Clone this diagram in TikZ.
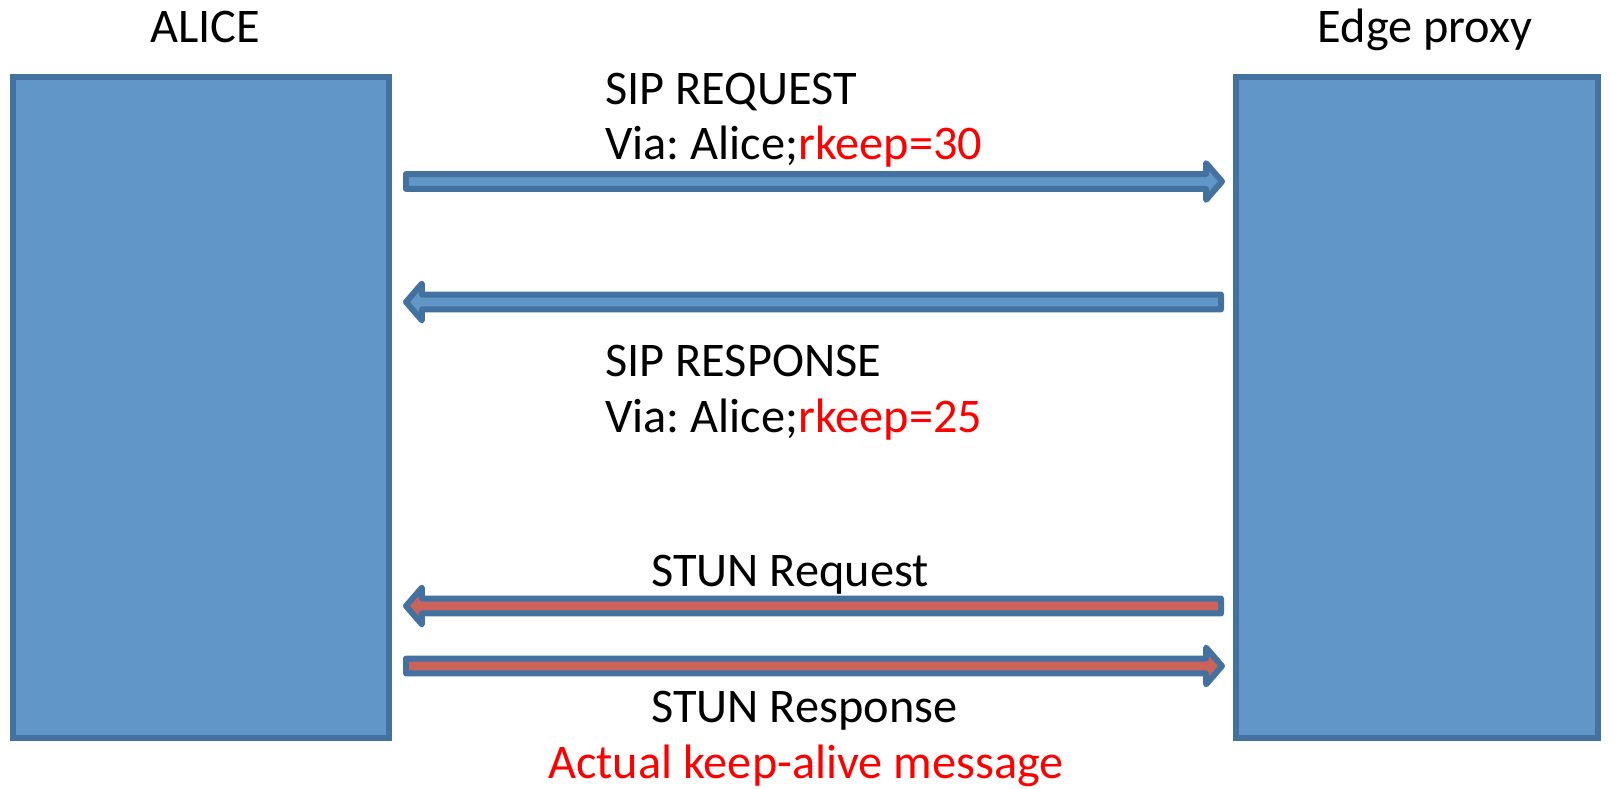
\documentclass[tikz,border=0pt]{standalone}
\usepackage{fontspec}
\setmainfont{Carlito}
\usetikzlibrary{calc}
\frenchspacing

\definecolor{boxfill}{RGB}{97,150,200}
\definecolor{boxline}{RGB}{68,114,160}
\definecolor{stunfill}{RGB}{203,99,91}
\definecolor{keepred}{RGB}{255,0,0}

\tikzset{
  party/.style={draw=boxline, fill=boxfill, line width=3.4pt, inner sep=0pt, outer sep=0pt, minimum height=13.22cm},
  msgtext/.style={anchor=base west, inner sep=0pt, font=\fontsize{27.5}{33}\selectfont},
  nametext/.style={anchor=base, inner sep=0pt, font=\fontsize{27.5}{33}\selectfont},
  blockarrow/.style={draw=boxline, line width=3.4pt, line join=round, to path={
    let \p1=(\tikztostart), \p2=(\tikztotarget),
        \n1={ifthenelse(\x2>\x1,9.07,-9.07)},
        \n2={\x2-\n1*1pt} in
    (\x1,\y1+4.25pt) -- (\n2,\y2+4.25pt) -- (\n2,\y2+10.49pt)
    -- (\x2,\y2) -- (\n2,\y2-10.49pt) -- (\n2,\y2-4.25pt)
    -- (\x1,\y1-4.25pt) -- cycle}},
  sipmsg/.style={blockarrow, fill=boxfill},
  stunmsg/.style={blockarrow, fill=stunfill},
}

\begin{document}
\begin{tikzpicture}[x=0.02cm, y=-0.02cm]
  \useasboundingbox (0,0) rectangle (1615,788);

  % the two ends
  \node[party, minimum width=7.52cm] (alice) at (201,407.5) {};
  \node[party, minimum width=7.24cm] (proxy) at (1417,407.5) {};
  \node[nametext] (alice name) at (205,42) {ALICE};
  \node[nametext] (proxy name) at (1425,42) {Edge proxy};

  % arrow ends
  \coordinate (req a) at (406,181.5);
  \coordinate (req b) at (1222,181.5);
  \coordinate (resp a) at (1221,302);
  \coordinate (resp b) at (406,302);
  \coordinate (stunreq a) at (1221,606);
  \coordinate (stunreq b) at (406,606);
  \coordinate (stunresp a) at (406,666);
  \coordinate (stunresp b) at (1222,666);

  \draw[sipmsg] (req a) to (req b);
  \draw[sipmsg] (resp a) to (resp b);
  \draw[stunmsg] (stunreq a) to (stunreq b);
  \draw[stunmsg] (stunresp a) to (stunresp b);

  % labels
  \node[msgtext] (req l1) at (605,104) {SIP REQUEST};
  \node[msgtext] (req l2) at (605,159) {Via: Alice;\textcolor{keepred}{rkeep=30}};
  \node[msgtext] (resp l1) at (605,376) {SIP RESPONSE};
  \node[msgtext] (resp l2) at (605,432) {Via: Alice;\textcolor{keepred}{rkeep=25}};
  \node[msgtext] (stunreq l) at (651,586) {STUN Request};
  \node[msgtext] (stunresp l) at (651,722) {STUN Response};
  \node[msgtext, text=keepred] (keep l) at (548,778) {Actual keep-alive message};
\end{tikzpicture}
\end{document}
